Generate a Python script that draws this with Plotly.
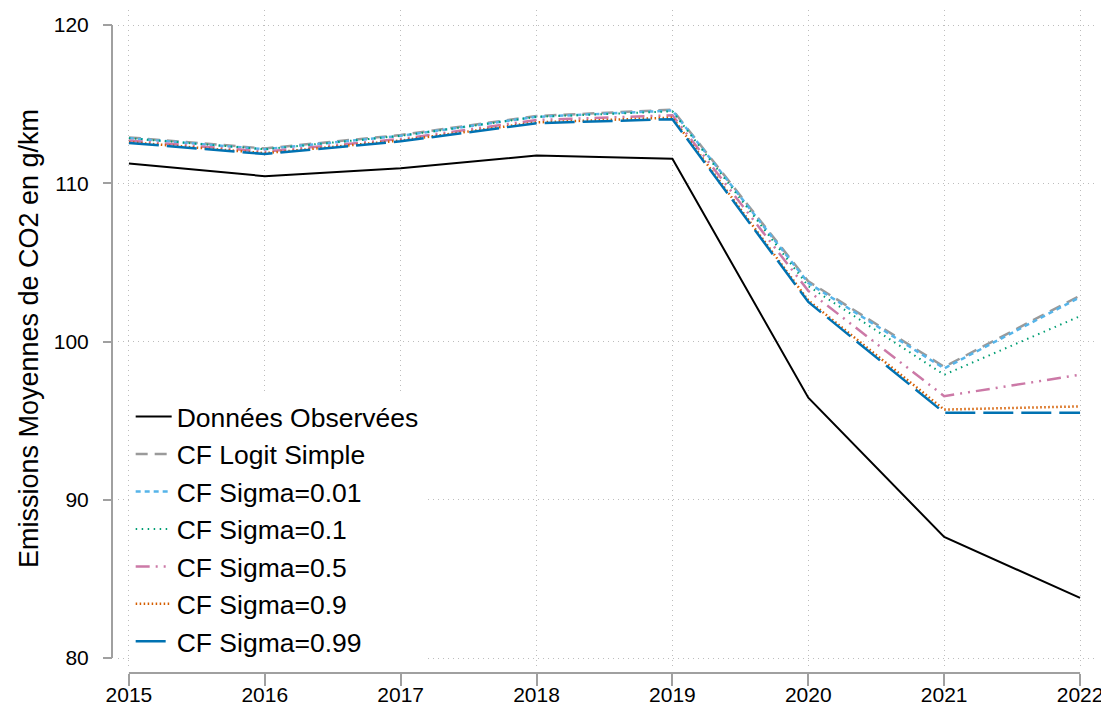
import plotly.graph_objects as go

#################################
# data
#################################

years = [2015, 2016, 2017, 2018, 2019, 2020, 2021, 2022]

observees = [111.25, 110.45, 110.95, 111.75, 111.55, 96.45, 87.65, 83.8]
logit_simple = [112.9, 112.2, 113.05, 114.25, 114.65, 103.8, 98.4, 102.9]
sigma_001 = [112.85, 112.15, 113.0, 114.2, 114.6, 103.7, 98.3, 102.8]
sigma_01 = [112.85, 112.15, 113.0, 114.2, 114.55, 103.5, 97.9, 101.6]
sigma_05 = [112.7, 112.0, 112.8, 114.0, 114.3, 103.2, 96.55, 97.9]
sigma_09 = [112.6, 111.9, 112.7, 113.85, 114.15, 102.6, 95.7, 95.9]
sigma_099 = [112.55, 111.85, 112.65, 113.8, 114.05, 102.5, 95.5, 95.5]

y_ticks = [80, 90, 100, 110, 120]

FONT = "Liberation Sans, Arial, sans-serif"
AXIS_GRAY = "#a0a0a0"
GRID_GRAY = "#bdbdbd"

fig = go.Figure()

fig.add_trace(go.Scatter(x=years, y=observees, mode="lines", name="Données Observées",
                         line=dict(color="black", width=2)))
fig.add_trace(go.Scatter(x=years, y=logit_simple, mode="lines", name="CF Logit Simple",
                         line=dict(color="#9a9a9a", width=2.5, dash="12px,7px")))
fig.add_trace(go.Scatter(x=years, y=sigma_001, mode="lines", name="CF Sigma=0.01",
                         line=dict(color="#56B4E9", width=2.5, dash="5px,4px")))
fig.add_trace(go.Scatter(x=years, y=sigma_01, mode="lines", name="CF Sigma=0.1",
                         line=dict(color="#009E73", width=2, dash="1.5px,4.5px")))
fig.add_trace(go.Scatter(x=years, y=sigma_05, mode="lines", name="CF Sigma=0.5",
                         line=dict(color="#CC79A7", width=2.5, dash="14px,6px,2px,6px,2px,6px")))
fig.add_trace(go.Scatter(x=years, y=sigma_09, mode="lines", name="CF Sigma=0.9",
                         line=dict(color="#D55E00", width=2.5, dash="1.5px,2.5px")))
fig.add_trace(go.Scatter(x=years, y=sigma_099, mode="lines", name="CF Sigma=0.99",
                         line=dict(color="#0072B2", width=2.5, dash="30px,8px")))

# axis lines only span the data range (Stata look), drawn as shapes
fig.add_shape(type="line", xref="paper", yref="y", x0=0, x1=0, y0=y_ticks[0], y1=y_ticks[-1],
              line=dict(color=AXIS_GRAY, width=2))
fig.add_shape(type="line", xref="x", yref="paper", x0=years[0], x1=years[-1], y0=0, y1=0,
              line=dict(color=AXIS_GRAY, width=2))

# the page body adds an 8px margin, so the figure is 8px smaller and shifted
fig.update_layout(
    width=1101, height=702,
    margin=dict(l=104, r=14, t=2, b=37),
    paper_bgcolor="white", plot_bgcolor="white",
    font=dict(family=FONT, size=21, color="black"),
    showlegend=True,
    legend=dict(x=0.019, y=0.4225, xanchor="left", yanchor="top",
                bgcolor="white", font=dict(size=26.5, family=FONT),
                tracegroupgap=0, itemwidth=36),
    xaxis=dict(domain=[0.006, 1], range=[2014.919, 2022.11], anchor="free", position=0,
               tickvals=years, ticks="outside", ticklen=12, tickwidth=2, tickcolor=AXIS_GRAY,
               showline=False, zeroline=False, automargin=False, ticklabelstandoff=-9,
               showgrid=True, gridcolor=GRID_GRAY, griddash="1px,4px", gridwidth=1,
               tickfont=dict(size=21)),
    yaxis=dict(domain=[0.009, 1], range=[79.43, 120.95], anchor="free", position=0,
               tickvals=y_ticks, ticks="outside", ticklen=9, tickwidth=2, tickcolor=AXIS_GRAY,
               showline=False, zeroline=False, automargin=False, ticklabelstandoff=10,
               showgrid=True, gridcolor=GRID_GRAY, griddash="1px,4px", gridwidth=1,
               tickfont=dict(size=21),
               title=dict(text="Emissions Moyennes de CO2 en g/km", font=dict(size=27), standoff=6)),
)

fig.write_html("out.html")
